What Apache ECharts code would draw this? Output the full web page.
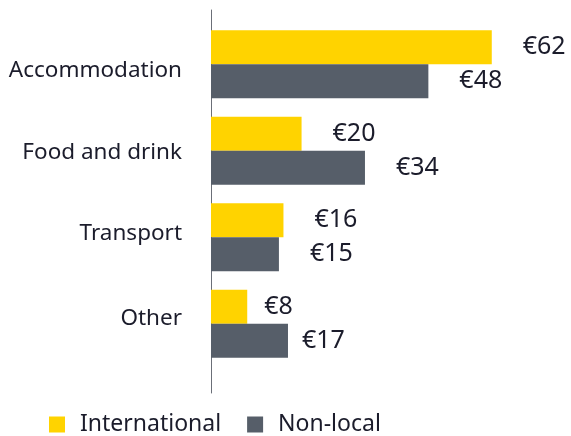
<!DOCTYPE html>
<html>
<head>
<meta charset="utf-8">
<script src="https://cdn.jsdelivr.net/npm/echarts@6/dist/echarts.min.js"></script>
<style>
  html, body { margin: 0; padding: 0; background: #fff; }
  #chart { width: 571px; height: 436px; }
</style>
</head>
<body>
<div id="chart"></div>
<script>
// spending per visitor, top to bottom
const categories = ['Accommodation', 'Food and drink', 'Transport', 'Other']
const international = [62, 20, 16, 8]
const nonLocal = [48, 34, 15, 17]
const seriesNames = ['International', 'Non-local']

const textColor = '#1b1c2b'
const font = 'Noto Sans'

const chart = echarts.init(document.getElementById('chart'), null, { renderer: 'canvas' })

const labelStyle = {
  show: true,
  position: 'right',
  distance: 31,
  color: textColor,
  fontFamily: font,
  fontSize: 25,
  formatter: p => '€' + p.value
}

// category labels sit a little off the band centres in the original
const catText = { color: textColor, fontFamily: font, fontSize: 22.5 }
const catRich = {
  c0: Object.assign({ padding: [12, 0, 0, 0] }, catText),
  c1: Object.assign({ padding: [4, 0, 0, 0] }, catText),
  c2: Object.assign({ padding: [0, 0, 8, 0] }, catText),
  c3: Object.assign({ padding: [0, 0, 10, 0] }, catText)
}

chart.setOption({
  animation: false,
  legend: {
    top: 408,
    left: 44,
    itemWidth: 16,
    itemHeight: 16,
    itemGap: 26,
    icon: 'rect',
    textStyle: { color: textColor, fontFamily: font, fontSize: 23, padding: [0, 0, 0, 10] },
    data: seriesNames
  },
  grid: [
    { left: 211, top: 21, width: 317, height: 346 },
    // only for the taller axis line
    { left: 211, top: 10, width: 317, height: 383 }
  ],
  xAxis: [
    { type: 'value', min: 0, max: 70, show: false, gridIndex: 0 },
    { type: 'value', min: 0, max: 70, show: false, gridIndex: 1 }
  ],
  yAxis: [
    {
      type: 'category',
      gridIndex: 0,
      inverse: true,
      data: categories,
      axisLine: { show: false },
      axisTick: { show: false },
      axisLabel: {
        margin: 29,
        formatter: (v, i) => '{c' + i + '|' + v + '}',
        rich: catRich
      }
    },
    {
      type: 'value',
      gridIndex: 1,
      axisLine: { show: true, lineStyle: { color: '#6b6f78', width: 1 } },
      axisTick: { show: false },
      axisLabel: { show: false },
      splitLine: { show: false }
    }
  ],
  series: [
    {
      name: seriesNames[0],
      type: 'bar',
      xAxisIndex: 0,
      yAxisIndex: 0,
      barWidth: 34,
      barGap: '0%',
      itemStyle: { color: '#ffd300' },
      label: labelStyle,
      data: international.map((v, i) => i === 3 ? { value: v, label: { distance: 17 } } : v)
    },
    {
      name: seriesNames[1],
      type: 'bar',
      xAxisIndex: 0,
      yAxisIndex: 0,
      barWidth: 34,
      barGap: '0%',
      itemStyle: { color: '#565e69' },
      label: labelStyle,
      data: nonLocal.map((v, i) => i === 3 ? { value: v, label: { distance: 14 } } : v)
    }
  ]
})
</script>
</body>
</html>
